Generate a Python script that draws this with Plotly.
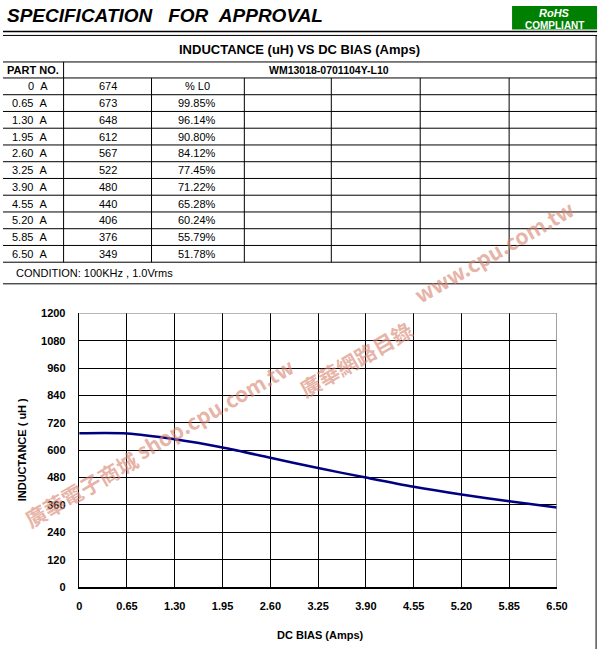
import plotly.graph_objects as go

# ---------------- data ----------------
bias_labels = ["0  A", "0.65  A", "1.30  A", "1.95  A", "2.60  A", "3.25  A",
               "3.90  A", "4.55  A", "5.20  A", "5.85  A", "6.50  A"]
bias_amps = [0, 0.65, 1.30, 1.95, 2.60, 3.25, 3.90, 4.55, 5.20, 5.85, 6.50]
inductance_uh = [674, 673, 648, 612, 567, 522, 480, 440, 406, 376, 349]
percent_l0 = ["", "99.85%", "96.14%", "90.80%", "84.12%", "77.45%",
              "71.22%", "65.28%", "60.24%", "55.79%", "51.78%"]
x_tick_vals = [0, 0.65, 1.30, 1.95, 2.60, 3.25, 3.90, 4.55, 5.20, 5.85, 6.50]
x_tick_text = ["0", "0.65", "1.30", "1.95", "2.60", "3.25", "3.90", "4.55", "5.20", "5.85", "6.50"]
y_tick_vals = [0, 120, 240, 360, 480, 600, 720, 840, 960, 1080, 1200]
part_no = "WM13018-0701104Y-L10"
watermark_parts = ["廣華電子商城", "shop.cpu.com.tw", "廣華網路目錄", "www.cpu.com.tw"]

W, H = 611, 655
FONT = "Arial, 'Liberation Sans', sans-serif"


def X(px):
    return px / W


def Y(py):
    return 1 - py / H


fig = go.Figure()
fig.add_trace(go.Scatter(
    x=bias_amps, y=inductance_uh, mode="lines",
    line=dict(color="#000080", width=2.5, shape="spline", smoothing=0.8),
    hoverinfo="skip", showlegend=False))

shapes = []
annos = []


def hline(y, x0, x1, color="black", w=1):
    shapes.append(dict(type="line", xref="paper", yref="paper",
                       x0=X(x0), x1=X(x1), y0=Y(y), y1=Y(y),
                       line=dict(color=color, width=w)))


def vline(x, y0, y1, color="black", w=1):
    shapes.append(dict(type="line", xref="paper", yref="paper",
                       x0=X(x), x1=X(x), y0=Y(y0), y1=Y(y1),
                       line=dict(color=color, width=w)))


def text(t, x, y, size=11, bold=False, italic=False, color="black",
         xanchor="center", angle=0, yanchor="middle", family=FONT):
    s = t
    if bold:
        s = "<b>" + s + "</b>"
    if italic:
        s = "<i>" + s + "</i>"
    annos.append(dict(text=s, xref="paper", yref="paper", x=X(x), y=Y(y),
                      xanchor=xanchor, yanchor=yanchor, showarrow=False,
                      textangle=angle,
                      font=dict(family=family, size=size, color=color)))


# header
text("SPECIFICATION\u00a0\u00a0\u00a0FOR\u00a0\u00a0APPROVAL", 2, 10, size=19,
     bold=True, italic=True, xanchor="left")
hline(26, 0, 608, w=1.5)
shapes.append(dict(type="rect", xref="paper", yref="paper",
                   x0=X(521), x1=X(608), y0=Y(24), y1=Y(0),
                   fillcolor="#008000", line=dict(width=0)))
text("RoHS", 564, 7, size=11, bold=True, italic=True, color="white")
text("COMPLIANT", 564, 20, size=10, bold=True, color="white")

# table
row_top = 73.3
row_h = (261 - 73.3) / 11
hline(30, 0, 608)
hline(57, 0, 608)
for i in range(12):
    hline(row_top + i * row_h, 0, 608)
hline(283, 0, 608)
vline(607, 30, 655)
vline(62, 57, 261)
for cx in [152, 247, 336, 427, 518]:
    vline(cx, 73.3, 261)

text("INDUCTANCE (uH) VS DC BIAS (Amps)", 303, 44, size=13, bold=True)
text("PART NO.", 31, 65, size=11, bold=True)
text(part_no, 334, 65, size=10.5, bold=True)
for i in range(11):
    yc = row_top + i * row_h + row_h / 2
    text(bias_labels[i].replace("  ", "\u00a0\u00a0"), 48, yc, size=11, xanchor="right")
    text(str(inductance_uh[i]), 107, yc, size=11)
    text("% L0" if i == 0 else percent_l0[i], 199, yc, size=11)
text("CONDITION: 100KHz , 1.0Vrms", 11, 272, size=11, xanchor="left")

# chart borders (top/right gray)
shapes.append(dict(type="line", xref="x", yref="y", x0=0, x1=6.5, y0=1200, y1=1200,
                   line=dict(color="#808080", width=1), layer="above"))
shapes.append(dict(type="line", xref="x", yref="y", x0=6.5, x1=6.5, y0=0, y1=1200,
                   line=dict(color="#808080", width=1.5), layer="above"))

# axis titles
text("INDUCTANCE ( uH )", 19, 452, size=11, bold=True, angle=-90)
text("DC BIAS (Amps)", 325, 641, size=11, bold=True)

# watermark (split into pieces along a diagonal)
wm_pos = [(80, 492), (217, 410), (361, 360), (503, 250)]
for t, (wx, wy) in zip(watermark_parts, wm_pos):
    text(t, wx, wy, size=21, bold=True, angle=-30,
         color="rgba(215,130,110,0.62)",
         family="'Noto Sans CJK TC', Arial, sans-serif")

fig.update_layout(
    width=W, height=H, margin=dict(l=0, r=0, t=0, b=0),
    paper_bgcolor="white", plot_bgcolor="white", hovermode=False,
    shapes=shapes, annotations=annos, showlegend=False,
    xaxis=dict(domain=[X(78), X(567)], range=[0, 6.5], tickvals=x_tick_vals,
               ticktext=x_tick_text, showgrid=True, gridcolor="black", gridwidth=1,
               showline=True, linecolor="black", linewidth=1.5, zeroline=False,
               ticks="", ticklabelstandoff=8,
               tickfont=dict(family=FONT, size=11, color="black", weight="bold"),
               fixedrange=True),
    yaxis=dict(domain=[Y(592), Y(313)], range=[0, 1200], tickvals=y_tick_vals,
               showgrid=True, gridcolor="black", gridwidth=1,
               showline=True, linecolor="black", linewidth=1.5, zeroline=False,
               ticks="", ticklabelstandoff=10,
               tickfont=dict(family=FONT, size=11, color="black", weight="bold"),
               fixedrange=True),
)

post = """
var de = document.documentElement, bd = document.body;
de.style.margin = '0'; de.style.overflow = 'hidden';
de.style.width = '611px'; de.style.height = '655px';
bd.style.margin = '0'; bd.style.overflow = 'hidden';
bd.style.position = 'fixed'; bd.style.left = '0'; bd.style.top = '0';
bd.style.width = '611px'; bd.style.height = '655px';
var gds = document.getElementsByClassName('plotly-graph-div');
for (var i = 0; i < gds.length; i++) { gds[i].style.overflow = 'hidden'; }
"""
fig.write_html("out.html", config={"displayModeBar": False, "staticPlot": True},
               post_script=post)
